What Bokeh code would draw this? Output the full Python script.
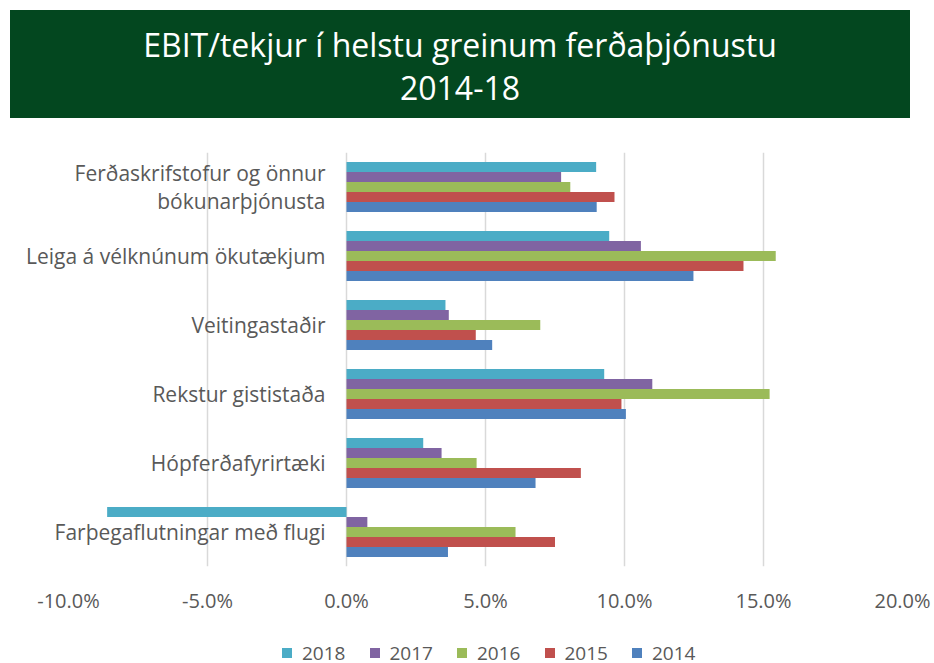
from bokeh.plotting import figure
from bokeh.models import (Div, FactorRange, FixedTicker, PrintfTickFormatter,
                          ColumnDataSource)
from bokeh.transform import dodge
from bokeh.layouts import column
from bokeh.embed import file_html
from bokeh.resources import INLINE

title_lines = ["EBIT/tekjur í helstu greinum ferðaþjónustu", "2014-18"]

categories = [
    "Ferðaskrifstofur og önnur\nbókunarþjónusta",
    "Leiga á vélknúnum ökutækjum",
    "Veitingastaðir",
    "Rekstur gististaða",
    "Hópferðafyrirtæki",
    "Farþegaflutningar með flugi",
]
years = ["2018", "2017", "2016", "2015", "2014"]
v2018 = [8.98, 9.45, 3.56, 9.27, 2.76, -8.61]
v2017 = [7.72, 10.59, 3.68, 11.00, 3.42, 0.75]
v2016 = [8.05, 15.44, 6.97, 15.22, 4.68, 6.08]
v2015 = [9.64, 14.28, 4.65, 9.89, 8.43, 7.50]
v2014 = [9.00, 12.48, 5.24, 10.05, 6.80, 3.65]
colors = ["#4BACC6", "#8064A2", "#9BBB59", "#C0504D", "#4F81BD"]
x_ticks = [-10, -5, 0, 5, 10, 15, 20]

FONT = "Open Sans"
GRAY = "#595959"

header = Div(
    text=("<div style=\"position:absolute;left:10px;top:10px;width:900px;height:108px;"
          "background:#03471F;color:#FFFFFF;font-family:'Open Sans';font-size:32px;"
          "text-align:center;line-height:43px;padding-top:13px;box-sizing:border-box;\">"
          + title_lines[0] + "<br>" + title_lines[1] + "</div>"),
    width=934, height=128, margin=0,
)

p = figure(frame_width=834, frame_height=414, output_backend="svg", toolbar_location=None,
           x_range=(-10, 20), y_range=FactorRange(factors=list(reversed(categories))),
           min_border_left=68, min_border_right=32, min_border_top=24,
           min_border_bottom=77, outline_line_color=None)
p.background_fill_color = "white"
p.border_fill_color = "white"

src = ColumnDataSource(dict(cat=categories, v2018=v2018, v2017=v2017,
                            v2016=v2016, v2015=v2015, v2014=v2014))
bh = 0.145
for j, (yr, col) in enumerate(zip(years, colors)):
    p.hbar(y=dodge("cat", (2 - j) * bh, range=p.y_range), right="v" + yr, left=0,
           height=bh, source=src, fill_color=col, line_color=None)

# category labels: y axis labels pulled in next to the 0 line
p.yaxis.axis_line_color = None
p.yaxis.major_tick_line_color = None
p.yaxis.minor_tick_line_color = None
p.yaxis.major_tick_out = 0
p.yaxis.major_tick_in = 0
p.yaxis.major_label_standoff = -257
p.yaxis.major_label_text_font = FONT
p.yaxis.major_label_text_font_size = "21px"
p.yaxis.major_label_text_color = GRAY
p.yaxis.major_label_text_line_height = 1.0
p.ygrid.visible = False

p.xaxis.ticker = FixedTicker(ticks=x_ticks)
p.xgrid.ticker = FixedTicker(ticks=x_ticks)
p.xgrid.grid_line_color = "#D9D9D9"
p.xgrid.grid_line_width = 1.5
p.xaxis.formatter = PrintfTickFormatter(format="%.1f%%")
p.xaxis.axis_line_color = None
p.xaxis.major_tick_line_color = None
p.xaxis.minor_tick_line_color = None
p.xaxis.major_tick_out = 0
p.xaxis.major_tick_in = 0
p.xaxis.major_label_standoff = 20
p.xaxis.major_label_text_font = FONT
p.xaxis.major_label_text_font_size = "20px"
p.xaxis.major_label_text_color = GRAY

# legend row
legend_items = "".join(
    "<span style=\"display:inline-flex;align-items:center;width:87.5px;\">"
    "<span style=\"display:inline-block;width:10px;height:10px;background:%s;"
    "margin-right:10px;\"></span>%s</span>" % (c, y)
    for y, c in zip(years, colors)
)
legend_div = Div(
    text=("<div style=\"position:absolute;left:282px;top:0px;height:20px;width:640px;"
          "display:flex;align-items:center;font-family:'Open Sans';font-size:19px;"
          "line-height:20px;color:#595959;white-space:nowrap;\">" + legend_items + "</div>"),
    width=934, height=20, margin=0,
)

layout = column(header, p, legend_div, spacing=0)
open("out.html", "w").write(file_html(layout, INLINE))
